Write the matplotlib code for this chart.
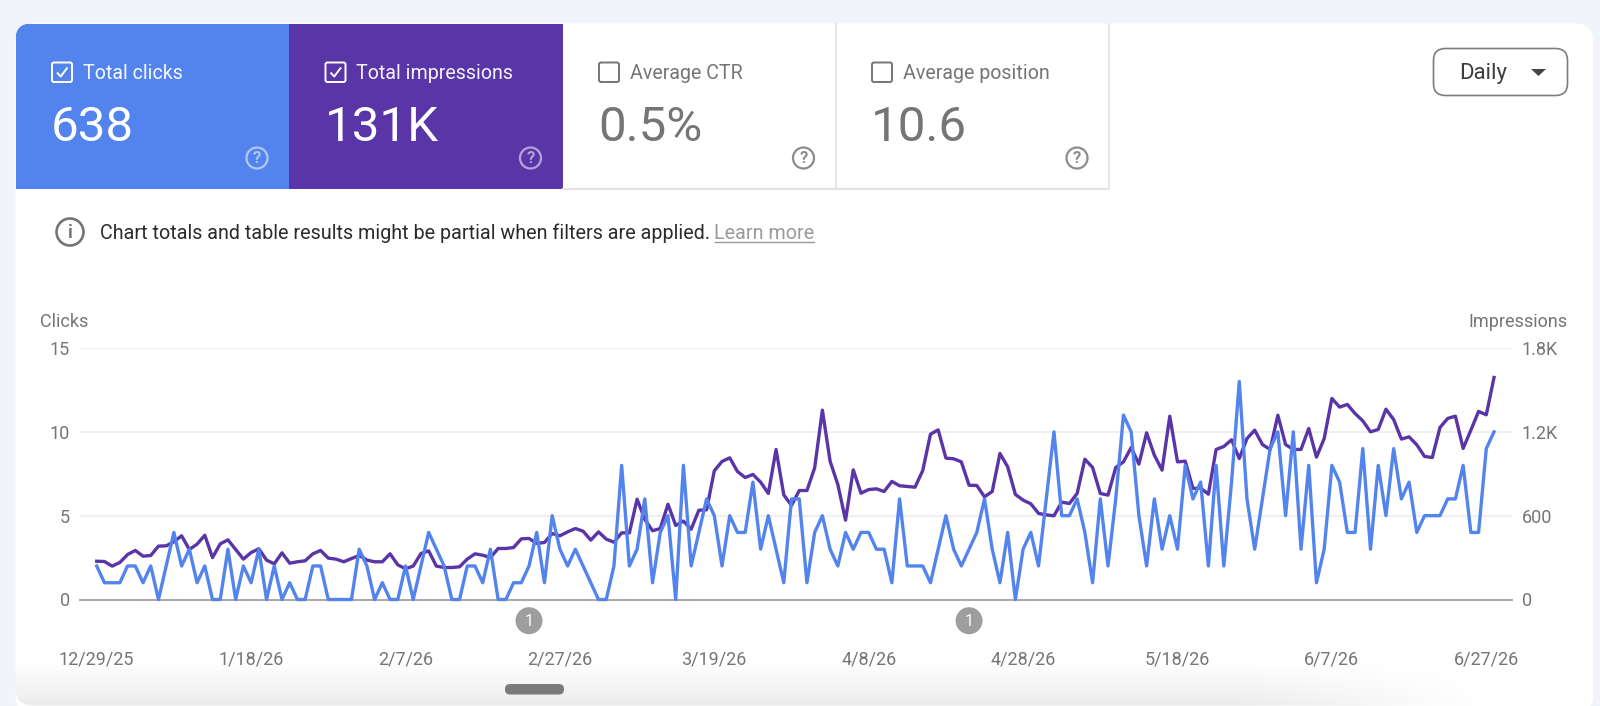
import numpy as np
import matplotlib
matplotlib.use("Agg")
import matplotlib.pyplot as plt
from matplotlib.patches import Rectangle, FancyBboxPatch, Circle, Polygon

plt.rcParams['font.family'] = ['Roboto', 'DejaVu Sans']

clicks = [2,1,1,1,2,2,1,2,0,2,4,2,3,1,2,0,0,3,0,2,1,3,0,2,0,1,0,0,2,2,0,0,0,0,3,2,0,1,0,0,2,0,2,4,3,2,0,0,2,2,1,3,
          0,0,1,1,2,
          4,1,5,3,2,3,2,1,0,0,2,8,2,3,6,1,4,5,0,8,2,4,6,5,2,5,4,4,7,3,5,3,1,6,6,1,4,5,3,2,4,3,4,4,3,3,1,6,2,2,2,1,3,5,3,2,3,4,6,3,
          1,
          4,0,3,4,2,6,10,5,5,6,4,1,6,2,6,11,10,5,2,6,3,5,3,8,6,7,2,8,2,7,13,6,3,6,9,10,5,10,3,8,1,3,8,7,4,4,9,3,8,5,9,6,7,4,5,5,5,6,6,8,4,4,9,10]
impressions = [274,272,239,265,322,351,310,315,382,384,413,456,358,396,460,300,398,427,358,289,336,363,282,255,334,260,270,277,327,351,296,289,270,293,315,282,270,270,327,248,220,239,329,348,239,229,229,234,289,327,317,300,
               365,365,372,434,437,
               401,408,472,456,484,508,489,425,484,432,410,477,477,718,573,492,508,682,530,561,503,639,642,921,988,1014,916,873,895,840,759,1074,749,673,780,780,942,1355,990,823,568,928,761,787,792,773,845,814,809,804,923,1183,1214,1012,1007,985,818,816,735,773,
               1045,
               950,752,711,685,616,606,599,697,687,759,1004,945,759,747,945,985,1088,969,1193,1033,926,1312,985,990,795,797,754,1074,1095,1143,1009,1152,1212,1109,1074,1319,1109,1074,1074,1224,1019,1152,1439,1377,1396,1331,1279,1200,1217,1362,1288,1148,1164,1107,1024,1016,1231,1296,1312,1081,1212,1346,1322,1589]
date_labels = ["12/29/25","1/18/26","2/7/26","2/27/26","3/19/26","4/8/26","4/28/26","5/18/26","6/7/26","6/27/26"]
date_ticks = [0,20,40,60,80,100,120,140,160,180]
clicks_ticks = [0,5,10,15]
impr_ticks = [0,600,1200,1800]
impr_tick_labels = ["0","600","1.2K","1.8K"]
card_titles = ["Total clicks","Total impressions","Average CTR","Average position"]
card_values = ["638","131K","0.5%","10.6"]
card_checked = [True,True,False,False]
marker_days = [56,113]

W, H = 1600, 706
BLUE, PURPLE, GRAY = "#5384EE", "#5935A8", "#757575"
fig = plt.figure(figsize=(W/100, H/100), dpi=100, facecolor="#F1F4F9")

# page layer in pixel coordinates
bg = fig.add_axes([0,0,1,1], zorder=0)
bg.set_xlim(0,W); bg.set_ylim(H,0); bg.axis("off")
bg.add_patch(FancyBboxPatch((15.5,23.5),1577.5,690,boxstyle="round,pad=0,rounding_size=18",fc="white",ec="none"))
# bottom fade
gx = np.clip((1500-np.linspace(15,1593,300))/260,0,1)
gy = np.clip((np.linspace(660,706,60)-660)/46,0,1)
alpha = np.outer(gy,gx)*0.08
img = np.zeros((60,300,4)); img[...,3]=alpha
clip = FancyBboxPatch((15.5,23.5),1577.5,682,boxstyle="round,pad=0,rounding_size=18",fc="none",ec="none",transform=bg.transData)
bg.add_patch(clip)
im = bg.imshow(img,extent=(15,1593,706,660),aspect="auto",zorder=1,interpolation="bilinear")
im.set_clip_path(clip)
bg.set_xlim(0,W); bg.set_ylim(H,0)

# cards
card_x = [15.5,289,562.5,835.5,1109]
card_fill = [BLUE,PURPLE,"white","white"]
card_top, card_bot = 23.5, 189
for i in range(4):
    x0,x1 = card_x[i],card_x[i+1]
    fc = card_fill[i]
    if i==0:
        p = FancyBboxPatch((x0,card_top),x1-x0+20,card_bot-card_top+20,boxstyle="round,pad=0,rounding_size=16",fc=fc,ec="none",zorder=2)
        r = Rectangle((x0,card_top),x1-x0,card_bot-card_top,transform=bg.transData,fc="none",ec="none")
        bg.add_patch(r); bg.add_patch(p); p.set_clip_path(r)
    else:
        bg.add_patch(Rectangle((x0,card_top),x1-x0,card_bot-card_top,fc=fc,ec="none",zorder=2))
    on = card_checked[i]
    txt = "white" if on else GRAY
    bx = x0+36.5
    bg.add_patch(FancyBboxPatch((bx,62.5),20,19.5,boxstyle="round,pad=0,rounding_size=2",fc="none",ec=txt,lw=1.4,zorder=3))
    if on:
        bg.plot([bx+5,bx+8.7,bx+15.5],[72.5,76.5,67.5],color="white",lw=1.4,zorder=4,solid_capstyle="butt")
    bg.text(bx+31,73.5,card_titles[i],color=txt,fontsize=14.1,va="center",ha="left",zorder=4,alpha=.95 if on else 1)
    bg.text(bx-1,128,card_values[i],color=txt,fontsize=35.5,va="center",ha="left",zorder=4)
    qx = x1-32
    ec = "white" if on else "#8c8c8c"
    al = .55 if on else 1
    bg.add_patch(Circle((qx,158),10.5,fc="none",ec=ec,lw=1.6,alpha=al,zorder=4))
    bg.text(qx,158.5,"?",color=ec,alpha=al,fontsize=12,fontweight="bold",ha="center",va="center",zorder=4)
bg.plot([562.5,1109],[189,189],color="#e3e3e3",lw=1.6,zorder=3)
bg.plot([835.5,835.5],[23.5,189],color="#e3e3e3",lw=1.2,zorder=3)
bg.plot([1109,1109],[23.5,189],color="#e3e3e3",lw=1.2,zorder=3)

# period button
bg.add_patch(FancyBboxPatch((1433.5,48.5),134,47,boxstyle="round,pad=0,rounding_size=12",fc="white",ec="#7d7d7d",lw=1.2,zorder=3))
bg.text(1459,74,"Daily",color="#3c3c3c",fontsize=16,va="center",ha="left",zorder=4)
bg.add_patch(Polygon([[1531,69],[1546,69],[1538.5,76]],fc="#444444",ec="none",zorder=4))

# notice
bg.add_patch(Circle((70,232),13.5,fc="none",ec="#757575",lw=1.9,zorder=3))
bg.text(70,232.5,"i",color="#757575",fontsize=13,ha="center",va="center",fontweight="bold",zorder=4)
bg.text(100.5,233.5,"Chart totals and table results might be partial when filters are applied.",color="#2b2b2b",fontsize=14.2,va="center",ha="left",zorder=4)
bg.text(714.5,233.5,"Learn more",color="#9a9a9a",fontsize=14.2,va="center",ha="left",zorder=4)
bg.plot([714.5,814],[242,242],color="#9a9a9a",lw=1,zorder=4)

# chart axes: the spans follow the gridline pixels of the reference
left, right, top, bottom = 79.5, 1512, 348, 599.5
rect = [left/W, 1-bottom/H, (right-left)/W, (bottom-top)/H]
days = np.arange(len(clicks))
xlim = ((left-96.7)/7.72, (right-96.7)/7.72)

ax_r = fig.add_axes(rect, zorder=1, facecolor="none")
ax_r.set_xlim(xlim); ax_r.set_ylim(0,1800)
ax_r.set_yticks(impr_ticks, impr_tick_labels)
ax_r.yaxis.tick_right()
ax_r.tick_params(axis="y",length=0,pad=7,labelsize=13,labelcolor=GRAY)
ax_r.tick_params(axis="x",length=0,pad=36.5,labelsize=13,labelcolor=GRAY)
ax_r.set_xticks(date_ticks, date_labels)
ax_r.grid(axis="y",color="#eeeeee",lw=1.3)
ax_r.set_axisbelow(True)
for s in ax_r.spines.values(): s.set_visible(False)
ax_r.spines["bottom"].set_visible(True); ax_r.spines["bottom"].set_color("#ababab"); ax_r.spines["bottom"].set_linewidth(1.5)
ax_r.plot(days,impressions,color=PURPLE,lw=2.4,solid_joinstyle="round",clip_on=False)

ax_l = fig.add_axes(rect, zorder=2, facecolor="none")
ax_l.set_xlim(xlim); ax_l.set_ylim(0,15)
ax_l.set_xticks([])
ax_l.set_yticks(clicks_ticks,[str(v) for v in clicks_ticks])
ax_l.tick_params(axis="y",length=0,pad=7,labelsize=13,labelcolor=GRAY)
for s in ax_l.spines.values(): s.set_visible(False)
ax_l.plot(days,clicks,color=BLUE,lw=2.4,solid_joinstyle="round",clip_on=False)

# overlay in pixel coordinates
fg = fig.add_axes([0,0,1,1], zorder=3, facecolor="none")
fg.set_xlim(0,W); fg.set_ylim(H,0); fg.axis("off")
fg.text(40,322,"Clicks",color=GRAY,fontsize=13,va="center",ha="left")
fg.text(1568,322,"Impressions",color=GRAY,fontsize=13,va="center",ha="right")
for d in marker_days:
    mx = 96.7+7.72*d
    fg.add_patch(Circle((mx,620.7),13.5,fc="#9e9e9e",ec="none"))
    fg.text(mx,621,"1",color="white",fontsize=11.5,ha="center",va="center")
fg.add_patch(FancyBboxPatch((505,684),59,10.5,boxstyle="round,pad=0,rounding_size=5",fc="#7b7b7b",ec="none"))

fig.savefig("out.png",dpi=100,facecolor=fig.get_facecolor())
